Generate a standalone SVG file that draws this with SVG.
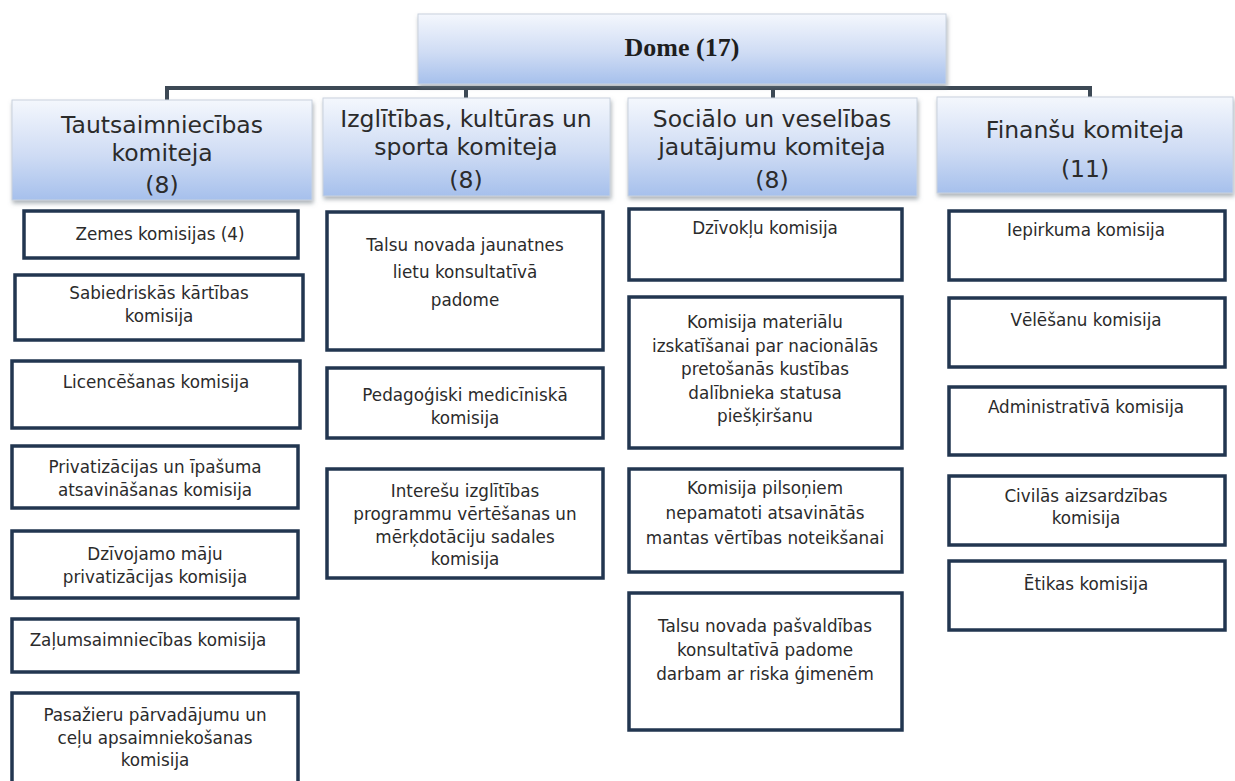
<svg xmlns="http://www.w3.org/2000/svg" width="1235" height="781" viewBox="0 0 1235 781">
<defs>
<linearGradient id="blueGrad" x1="0" y1="0" x2="0" y2="1">
<stop offset="0" stop-color="#f4f7fd"/>
<stop offset="0.55" stop-color="#cfdcf4"/>
<stop offset="1" stop-color="#a6c0ec"/>
</linearGradient>
<filter id="shadow" x="-5%" y="-5%" width="112%" height="125%">
<feDropShadow dx="1" dy="3" stdDeviation="2" flood-color="#6b7480" flood-opacity="0.55"/>
</filter>
</defs>
<style>
.head{fill:url(#blueGrad);stroke:#c9d2de;stroke-width:1;filter:url(#shadow)}
.com{fill:#ffffff;stroke:#223650;stroke-width:3.5}
.conn{fill:none;stroke:#3d4955;stroke-width:4}
.t1{font-family:"DejaVu Sans",Verdana,sans-serif;font-size:23.5px;fill:#2b2b2b;text-anchor:middle}
.t2{font-family:"DejaVu Sans",Verdana,sans-serif;font-size:16.8px;fill:#2b2b2b;text-anchor:middle}
.dome{font-family:"Liberation Serif","DejaVu Serif",serif;font-size:26px;font-weight:bold;fill:#1e1e1e;text-anchor:middle}
</style>
<rect width="1235" height="781" fill="#ffffff"/>

<g id="connectors">
<path class="conn" d="M167 100 V88 H1090 V100"/>
<path class="conn" d="M466 88 V98"/>
<path class="conn" d="M773 88 V98"/>
</g>

<g id="dome">
<rect class="head" x="418" y="14" width="528" height="70"/>
<text class="dome" x="682" y="56">Dome (17)</text>
</g>

<g id="k-tautsaimniecibas">
<rect class="head" x="12" y="100" width="300" height="100"/>
<text class="t1" x="162" y="133">Tautsaimniecības</text>
<text class="t1" x="162" y="161">komiteja</text>
<text class="t1" x="162" y="193">(8)</text>
</g>
<g id="k-izglitibas">
<rect class="head" x="323" y="98" width="287" height="98"/>
<text class="t1" x="466" y="127">Izglītības, kultūras un</text>
<text class="t1" x="466" y="155">sporta komiteja</text>
<text class="t1" x="466" y="188">(8)</text>
</g>
<g id="k-socialo">
<rect class="head" x="628" y="98" width="289" height="98"/>
<text class="t1" x="772" y="127">Sociālo un veselības</text>
<text class="t1" x="772" y="155">jautājumu komiteja</text>
<text class="t1" x="772" y="188">(8)</text>
</g>
<g id="k-finansu">
<rect class="head" x="937" y="97" width="296" height="96"/>
<text class="t1" x="1085" y="138">Finanšu komiteja</text>
<text class="t1" x="1085" y="177">(11)</text>
</g>

<!-- Column 1 -->
<g id="c1-1"><rect class="com" x="24" y="211" width="274" height="47"/>
<text class="t2" x="160" y="240">Zemes komisijas (4)</text></g>
<g id="c1-2"><rect class="com" x="15" y="275" width="288" height="65"/>
<text class="t2" x="159" y="299">Sabiedriskās kārtības</text>
<text class="t2" x="159" y="322">komisija</text></g>
<g id="c1-3"><rect class="com" x="12" y="361" width="288" height="67"/>
<text class="t2" x="156" y="388">Licencēšanas komisija</text></g>
<g id="c1-4"><rect class="com" x="12" y="446" width="286" height="62"/>
<text class="t2" x="155" y="473">Privatizācijas un īpašuma</text>
<text class="t2" x="155" y="496">atsavināšanas komisija</text></g>
<g id="c1-5"><rect class="com" x="12" y="531" width="286" height="67"/>
<text class="t2" x="155" y="560">Dzīvojamo māju</text>
<text class="t2" x="155" y="583">privatizācijas komisija</text></g>
<g id="c1-6"><rect class="com" x="12" y="619" width="286" height="53"/>
<text class="t2" x="148" y="646">Zaļumsaimniecības komisija</text></g>
<g id="c1-7"><rect class="com" x="12" y="693" width="286" height="94"/>
<text class="t2" x="155" y="721">Pasažieru pārvadājumu un</text>
<text class="t2" x="155" y="744">ceļu apsaimniekošanas</text>
<text class="t2" x="155" y="766">komisija</text></g>

<!-- Column 2 -->
<g id="c2-1"><rect class="com" x="327" y="212" width="276" height="138"/>
<text class="t2" x="465" y="251">Talsu novada jaunatnes</text>
<text class="t2" x="465" y="278">lietu konsultatīvā</text>
<text class="t2" x="465" y="306">padome</text></g>
<g id="c2-2"><rect class="com" x="327" y="368" width="276" height="70"/>
<text class="t2" x="465" y="401">Pedagoģiski medicīniskā</text>
<text class="t2" x="465" y="424">komisija</text></g>
<g id="c2-3"><rect class="com" x="327" y="469" width="276" height="109"/>
<text class="t2" x="465" y="497">Interešu izglītības</text>
<text class="t2" x="465" y="520">programmu vērtēšanas un</text>
<text class="t2" x="465" y="543">mērķdotāciju sadales</text>
<text class="t2" x="465" y="565">komisija</text></g>

<!-- Column 3 -->
<g id="c3-1"><rect class="com" x="629" y="209" width="273" height="71"/>
<text class="t2" x="765" y="234">Dzīvokļu komisija</text></g>
<g id="c3-2"><rect class="com" x="629" y="297" width="273" height="151"/>
<text class="t2" x="765" y="328">Komisija materiālu</text>
<text class="t2" x="765" y="352">izskatīšanai par nacionālās</text>
<text class="t2" x="765" y="375">pretošanās kustības</text>
<text class="t2" x="765" y="399">dalībnieka statusa</text>
<text class="t2" x="765" y="422">piešķiršanu</text></g>
<g id="c3-3"><rect class="com" x="629" y="469" width="273" height="103"/>
<text class="t2" x="765" y="494">Komisija pilsoņiem</text>
<text class="t2" x="765" y="519">nepamatoti atsavinātās</text>
<text class="t2" x="765" y="544">mantas vērtības noteikšanai</text></g>
<g id="c3-4"><rect class="com" x="629" y="593" width="273" height="137"/>
<text class="t2" x="765" y="632">Talsu novada pašvaldības</text>
<text class="t2" x="765" y="656">konsultatīvā padome</text>
<text class="t2" x="765" y="680">darbam ar riska ģimenēm</text></g>

<!-- Column 4 -->
<g id="c4-1"><rect class="com" x="949" y="211" width="276" height="69"/>
<text class="t2" x="1086" y="236">Iepirkuma komisija</text></g>
<g id="c4-2"><rect class="com" x="949" y="298" width="276" height="69"/>
<text class="t2" x="1086" y="326">Vēlēšanu komisija</text></g>
<g id="c4-3"><rect class="com" x="949" y="387" width="276" height="68"/>
<text class="t2" x="1086" y="413">Administratīvā komisija</text></g>
<g id="c4-4"><rect class="com" x="949" y="476" width="276" height="69"/>
<text class="t2" x="1086" y="502">Civilās aizsardzības</text>
<text class="t2" x="1086" y="524">komisija</text></g>
<g id="c4-5"><rect class="com" x="949" y="561" width="276" height="69"/>
<text class="t2" x="1086" y="590">Ētikas komisija</text></g>
</svg>
